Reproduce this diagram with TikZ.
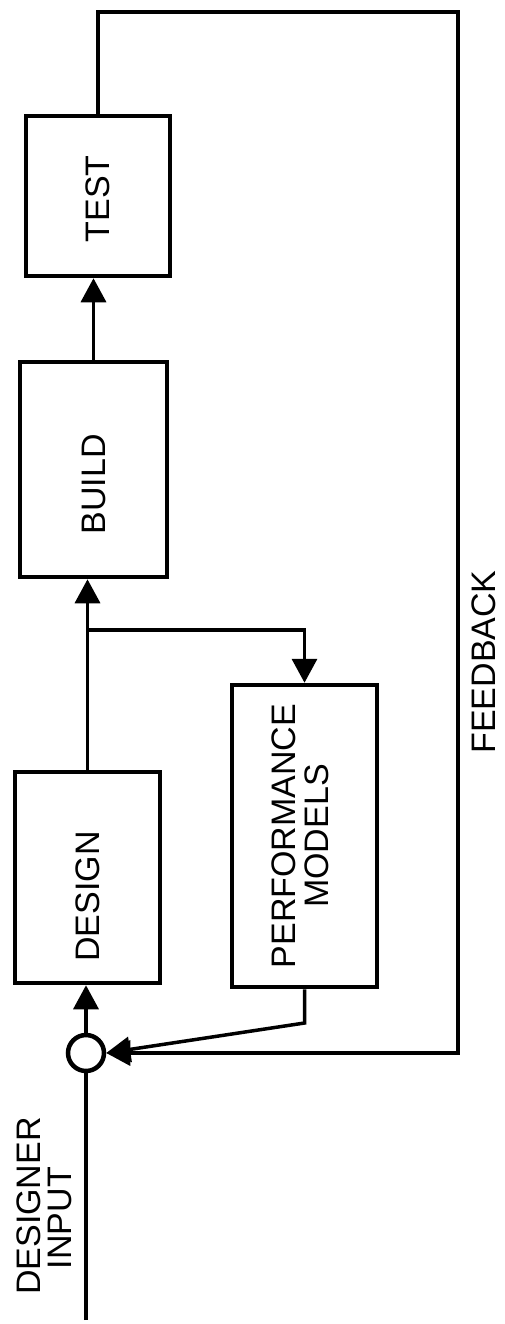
\documentclass[tikz,border=0pt]{standalone}
\usepackage{fontspec}
\setmainfont{Liberation Sans}
\usepackage{graphicx}
\usetikzlibrary{arrows.meta}
\tikzset{
  txt/.style={font=\fontsize{34}{31}\selectfont},
  stage/.style={draw, line width=4.5pt, inner sep=0pt, txt},
  sumnode/.style={draw, circle, line width=4.5pt, minimum size=36pt, inner sep=0pt, fill=white},
  conn/.style={line width=3.5pt, line join=miter},
  arr/.style={conn, -{Triangle[length=24pt,width=25pt]}},
}
\begin{document}
\begin{tikzpicture}[x=1pt,y=-1pt]
\useasboundingbox (0,0) rectangle (504,1324);
\node[stage, minimum width=144pt, minimum height=160pt] (test) at (98,196) {\rotatebox{90}{TEST\hspace*{6pt}}};
\node[stage, minimum width=147pt, minimum height=215pt] (build) at (93.5,469.5) {\rotatebox{90}{BUILD\hspace*{30pt}}};
\node[stage, minimum width=145pt, minimum height=211pt] (design) at (87.5,877.5) {\rotatebox{90}{DESIGN\hspace*{38pt}}};
\node[stage, minimum width=145pt, minimum height=302pt] (perf) at (304.5,836) {\rotatebox{90}{\begin{tabular}{@{}c@{}}PERFORMANCE\\MODELS\end{tabular}}};
\node[sumnode] (sum) at (86,1053) {};
\node[txt, rotate=90, align=center] (din) at (44,1206) {DESIGNER\\INPUT\hspace*{24pt}};
\node[txt, rotate=90] (fblabel) at (484,662) {FEEDBACK};
\coordinate (br) at (87.5,630);
\coordinate (pk) at (304.5,1023);
\coordinate (fb1) at (98,12);
\coordinate (fb2) at (458,12);
\coordinate (fb3) at (458,1053);
\coordinate (in) at (86,1320);
\draw[arr] (design.north) -- (design.north |- build.south);
\draw[arr] (br) -| (perf.north);
\draw[arr] (build.north) -- (build.north |- test.south);
\draw[arr] (sum.north) -- (sum.north |- design.south);
\draw[conn] (in) -- (sum.south);
\draw[arr] (perf.south) -- (pk) -- (sum.east);
\draw[arr] (test.north) -- (fb1) -- (fb2) -- (fb3) -- (sum.east);
\end{tikzpicture}
\end{document}
